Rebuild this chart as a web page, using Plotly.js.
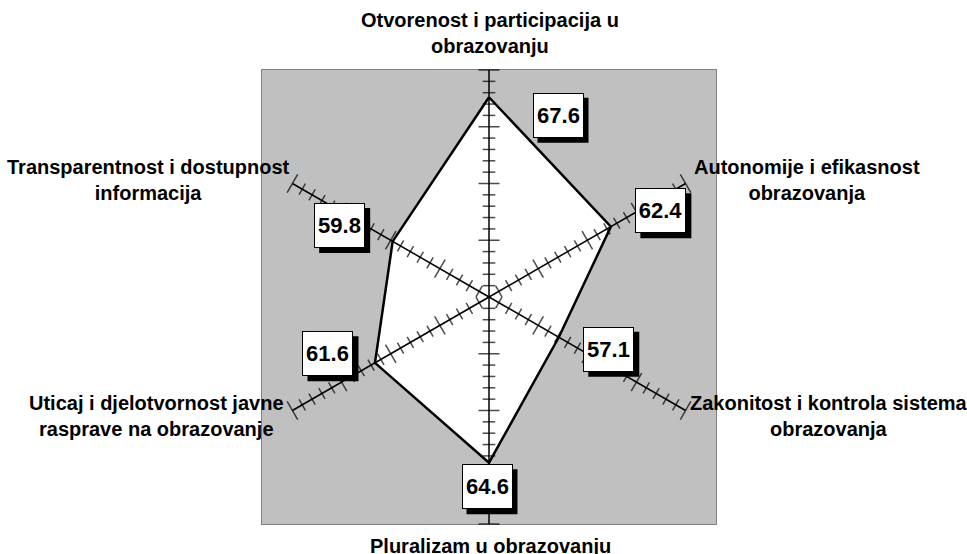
<!DOCTYPE html>
<html>
<head>
<meta charset="utf-8">
<script src="https://cdn.plot.ly/plotly-3.0.1.min.js"></script>
<style>html,body{margin:0;padding:0;background:#fff;}</style>
</head>
<body>
<div id="chart" style="width:967px;height:554px;"></div>
<script>
// ---- data ----
const categories = [
  "Otvorenost i participacija u<br>obrazovanju",
  "Autonomije i efikasnost<br>obrazovanja",
  "Zakonitost i kontrola sistema<br>obrazovanja",
  "Pluralizam u obrazovanju",
  "Uticaj i djelotvornost javne<br>rasprave na obrazovanje",
  "Transparentnost i dostupnost<br>informacija"
];
const values = [67.6, 62.4, 57.1, 64.6, 61.6, 59.8];
const axisAngles = [0, 60, 120, 180, 240, 300];   // degrees clockwise from top
const radialMin = 50;
const radialMax = 70;
const majorStep = 5;
const minorStep = 1;

// ---- layout / style helpers (pixel positions of text, not data) ----
const W = 967, H = 554;
const plotBox = {x0: 262, x1: 716, y0: 70, y1: 524};
const catLabelPos = [[490, 33], [807, 180], [829, 416], [490, 546], [156, 416], [148, 180]];
const valueLabelShift = [[69, 18], [50, -16], [50, 12], [-2, 24], [-47, -9], [-53, -16]];
const boxW = 51, boxH = 45, shadowOff = 5;

const font = "Liberation Sans, Arial, sans-serif";
const xDom = [plotBox.x0 / W, plotBox.x1 / W];
const yDom = [1 - plotBox.y1 / H, 1 - plotBox.y0 / H];
const half = radialMax - radialMin;

const traces = [];

// invisible cartesian trace so the background frame subplot exists
traces.push({type: 'scatter', x: [0], y: [0], mode: 'markers', marker: {opacity: 0},
  hoverinfo: 'skip', showlegend: false});

// data polygon
traces.push({
  type: 'scatterpolar',
  r: values.concat([values[0]]),
  theta: axisAngles.concat([axisAngles[0]]),
  mode: 'lines',
  fill: 'toself',
  fillcolor: '#ffffff',
  line: {color: '#000000', width: 2.5},
  hoverinfo: 'skip',
  showlegend: false,
  cliponaxis: false
});

// spokes
axisAngles.forEach(a => {
  traces.push({
    type: 'scatterpolar',
    r: [radialMin, radialMax],
    theta: [a, a],
    mode: 'lines',
    line: {color: '#000000', width: 1.5},
    hoverinfo: 'skip',
    showlegend: false,
    cliponaxis: false
  });
});

// tick marks on every spoke
const tr = [], tt = [], ts = [], ta = [];
axisAngles.forEach(a => {
  for (let v = radialMin + minorStep; v <= radialMax + 1e-9; v += minorStep) {
    const major = Math.abs((v - radialMin) % majorStep) < 1e-9;
    tr.push(v); tt.push(a); ta.push(a); ts.push(major ? 15 : 9);
  }
});
traces.push({
  type: 'scatterpolar',
  r: tr, theta: tt,
  mode: 'markers',
  marker: {symbol: 'line-ew', size: ts, angle: ta, color: '#000000',
           line: {color: '#000000', width: 1.5}},
  hoverinfo: 'skip',
  showlegend: false,
  cliponaxis: false
});

const annotations = [];
const shapes = [];

// value labels with drop shadow
values.forEach((v, i) => {
  const rad = axisAngles[i] * Math.PI / 180;
  const px = (v - radialMin) * Math.sin(rad);
  const py = (v - radialMin) * Math.cos(rad);
  const dx = valueLabelShift[i][0], dy = -valueLabelShift[i][1];
  shapes.push({
    type: 'rect', xref: 'x', yref: 'y', layer: 'above',
    xsizemode: 'pixel', ysizemode: 'pixel', xanchor: px, yanchor: py,
    x0: dx + shadowOff - boxW / 2, x1: dx + shadowOff + boxW / 2,
    y0: dy - shadowOff - boxH / 2, y1: dy - shadowOff + boxH / 2,
    fillcolor: '#000000', line: {width: 0}
  });
  annotations.push({
    x: px, y: py, xref: 'x', yref: 'y', showarrow: false,
    text: v.toFixed(1), width: boxW - 4, height: boxH - 4,
    borderwidth: 1, borderpad: 1, align: 'center', valign: 'middle',
    xshift: dx, yshift: dy,
    bgcolor: '#ffffff', bordercolor: '#000000',
    font: {family: font, size: 22, color: '#000000', weight: 'bold'}
  });
});

// category labels
categories.forEach((c, i) => {
  annotations.push({
    xref: 'paper', yref: 'paper',
    x: catLabelPos[i][0] / W, y: 1 - catLabelPos[i][1] / H,
    xanchor: 'center', yanchor: 'middle',
    text: c, showarrow: false, align: 'center',
    font: {family: font, size: 20, color: '#000000', weight: 'bold'}
  });
});

const layout = {
  width: W, height: H,
  margin: {l: 0, r: 0, t: 0, b: 0},
  paper_bgcolor: '#ffffff',
  plot_bgcolor: '#c0c0c0',
  showlegend: false,
  xaxis: {domain: xDom, range: [-half, half], showgrid: false, zeroline: false,
          showticklabels: false, ticks: '', showline: true, mirror: true,
          linecolor: '#808080', linewidth: 1, fixedrange: true},
  yaxis: {domain: yDom, range: [-half, half], showgrid: false, zeroline: false,
          showticklabels: false, ticks: '', showline: true, mirror: true,
          linecolor: '#808080', linewidth: 1, fixedrange: true},
  polar: {
    domain: {x: xDom, y: yDom},
    bgcolor: 'rgba(0,0,0,0)',
    radialaxis: {range: [radialMin, radialMax], showline: false, showgrid: false,
                 showticklabels: false, ticks: ''},
    angularaxis: {rotation: 90, direction: 'clockwise', showline: false, showgrid: false,
                  showticklabels: false, ticks: ''}
  },
  shapes: shapes,
  annotations: annotations
};

Plotly.newPlot('chart', traces, layout, {staticPlot: true, displayModeBar: false});
</script>
</body>
</html>
